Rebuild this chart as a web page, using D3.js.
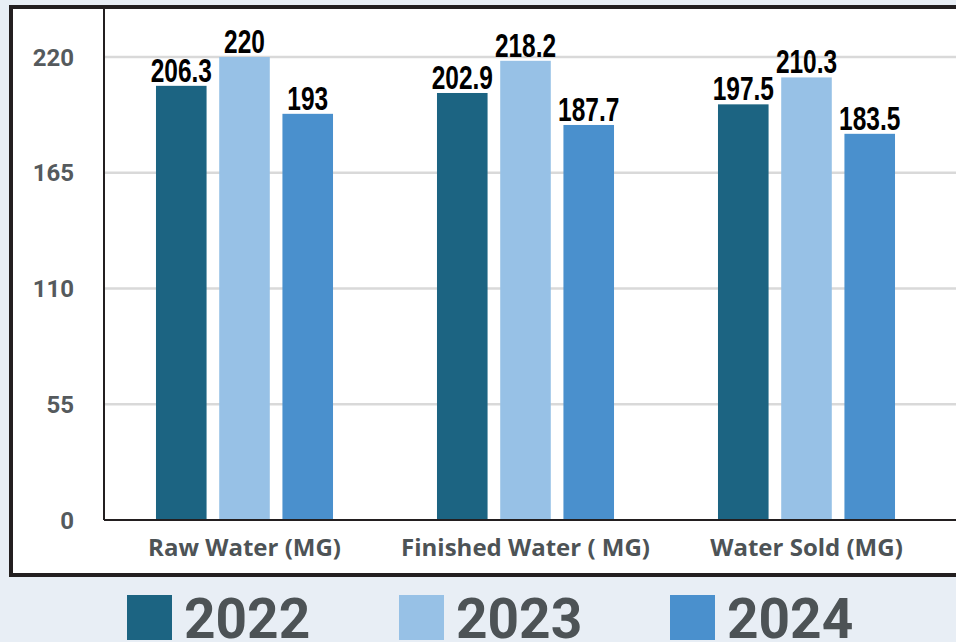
<!DOCTYPE html>
<html>
<meta charset="utf-8">
<head>
	<title>water volumes</title>
	<script src="https://cdn.jsdelivr.net/npm/d3@7/dist/d3.min.js" charset="utf-8"></script>
	<style>
		body { margin: 0; background: #e8eef5; }
	</style>
</head>
<body>
	<script type="text/javascript">
		var categories = ['Raw Water (MG)', 'Finished Water ( MG)', 'Water Sold (MG)'];
		var years = ['2022', '2023', '2024'];
		var values2022 = [206.3, 202.9, 197.5];
		var values2023 = [220, 218.2, 210.3];
		var values2024 = [193, 187.7, 183.5];
		var yTicks = [0, 55, 110, 165, 220];
		var colors = ['#1c6482', '#97c1e6', '#4a90cd'];

		var width = 956, height = 642;
		var svg = d3.select('body').append('svg')
			.attr('width', width)
			.attr('height', height);

		// white panel with heavy border
		svg.append('rect')
			.attr('x', 11).attr('y', 7)
			.attr('width', 960).attr('height', 568)
			.attr('fill', '#fff')
			.attr('stroke', '#231f20')
			.attr('stroke-width', 4);

		var plotLeft = 104, plotRight = 947, plotBottom = 520;
		var y = d3.scaleLinear().domain([0, 220]).range([plotBottom, 57]);
		var x0 = d3.scaleBand().domain(categories).range([plotLeft, plotRight]).paddingInner(0.37).paddingOuter(0.185);
		var x1 = d3.scaleBand().domain(years).range([0, x0.bandwidth()]).paddingInner(0.2);

		var series = [values2022, values2023, values2024];
		var rows = categories.map(function(c, i) {
			return { cat: c, vals: years.map(function(yr, j) { return { year: yr, v: series[j][i], k: j }; }) };
		});

		// grid lines
		svg.append('g').selectAll('line')
			.data(yTicks.filter(function(t) { return t > 0; }))
			.enter().append('line')
			.attr('x1', plotLeft).attr('x2', width)
			.attr('y1', function(d) { return y(d); })
			.attr('y2', function(d) { return y(d); })
			.attr('stroke', '#d9d9d9')
			.attr('stroke-width', 2.5);

		// y tick labels
		svg.append('g').selectAll('text')
			.data(yTicks)
			.enter().append('text')
			.attr('x', 74)
			.attr('y', function(d) { return y(d); })
			.attr('dy', '0.36em')
			.attr('text-anchor', 'end')
			.attr('font-family', 'Roboto, sans-serif')
			.attr('font-weight', 'bold')
			.attr('font-size', 24)
			.attr('fill', '#555a5d')
			.text(function(d) { return d; });

		var groups = svg.append('g').selectAll('g')
			.data(rows)
			.enter().append('g')
			.attr('transform', function(d) { return 'translate(' + x0(d.cat) + ',0)'; });

		groups.selectAll('rect')
			.data(function(d) { return d.vals; })
			.enter().append('rect')
			.attr('x', function(d) { return x1(d.year); })
			.attr('y', function(d) { return y(d.v); })
			.attr('width', x1.bandwidth())
			.attr('height', function(d) { return plotBottom - y(d.v); })
			.attr('fill', function(d) { return colors[d.k]; });

		// condensed look: squeeze a bold sans horizontally
		groups.selectAll('text')
			.data(function(d) { return d.vals; })
			.enter().append('text')
			.attr('transform', function(d) {
				return 'translate(' + (x1(d.year) + x1.bandwidth() / 2) + ',' + (y(d.v) - 4) + ') scale(0.72,1)';
			})
			.attr('text-anchor', 'middle')
			.attr('font-family', '"Liberation Sans", Arial, sans-serif')
			.attr('font-weight', 'bold')
			.attr('font-size', 34)
			.attr('fill', '#000')
			.text(function(d) { return d.v; });

		// axes lines
		svg.append('line')
			.attr('x1', plotLeft).attr('x2', plotLeft)
			.attr('y1', 9).attr('y2', plotBottom)
			.attr('stroke', '#231f20').attr('stroke-width', 2);
		svg.append('line')
			.attr('x1', plotLeft).attr('x2', width)
			.attr('y1', plotBottom).attr('y2', plotBottom)
			.attr('stroke', '#231f20').attr('stroke-width', 2);

		// category labels
		svg.append('g').selectAll('text')
			.data(categories)
			.enter().append('text')
			.attr('x', function(d) { return x0(d) + x0.bandwidth() / 2; })
			.attr('y', 556)
			.attr('text-anchor', 'middle')
			.attr('font-family', '"Open Sans", sans-serif')
			.attr('font-weight', 'bold')
			.attr('font-size', 24)
			.attr('fill', '#4d5356')
			.text(function(d) { return d; });

		// legend
		var legendX = [127, 399, 670];
		var legend = svg.append('g').selectAll('g')
			.data(years)
			.enter().append('g')
			.attr('transform', function(d, i) { return 'translate(' + legendX[i] + ',595)'; });
		legend.append('rect')
			.attr('width', 45).attr('height', 45)
			.attr('fill', function(d, i) { return colors[i]; });
		legend.append('text')
			.attr('x', 57).attr('y', 43)
			.attr('font-family', 'Roboto, sans-serif')
			.attr('font-weight', 'bold')
			.attr('font-size', 55)
			.attr('fill', '#4d5356')
			.text(function(d) { return d; });
	</script>
</body>
</html>
